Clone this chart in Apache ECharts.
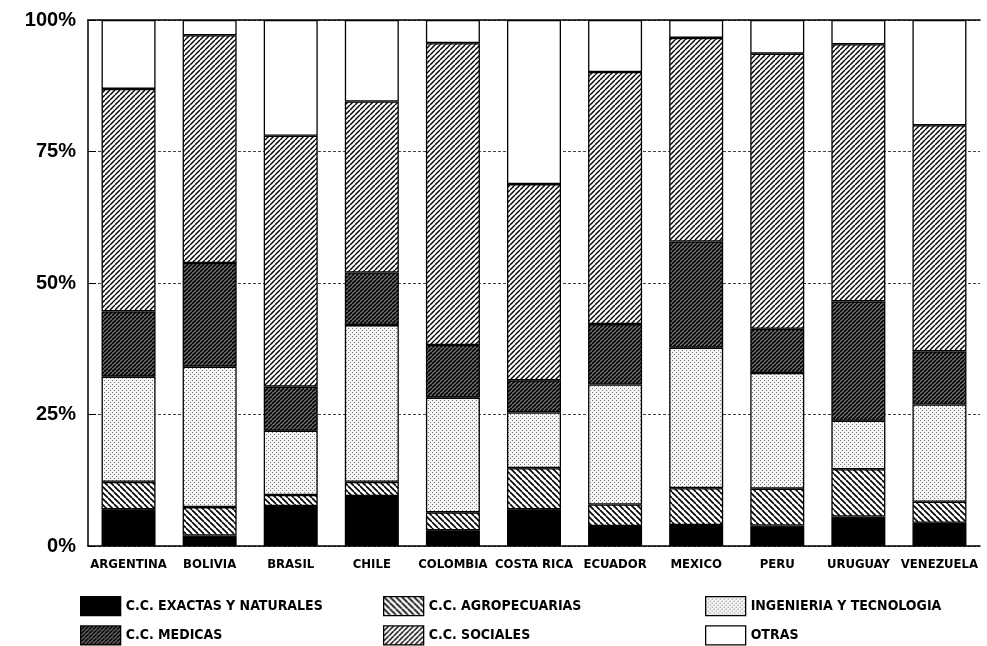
<!DOCTYPE html>
<html><head><meta charset="utf-8">
<script src="https://cdn.jsdelivr.net/npm/echarts@6/dist/echarts.min.js"></script>
<style>html,body{margin:0;padding:0;background:#fff}#c{width:987px;height:646px}</style>
</head><body><div id="c"></div>
<script>
const countries = ['ARGENTINA','BOLIVIA','BRASIL','CHILE','COLOMBIA','COSTA RICA','ECUADOR','MEXICO','PERU','URUGUAY','VENEZUELA'];
const exactas      = [7.0, 2.0, 7.6, 9.5, 3.0, 7.0, 3.8, 4.0, 3.9, 5.6, 4.4];
const agropec      = [5.2, 5.4, 2.1, 2.7, 3.4, 7.8, 4.1, 7.0, 7.0, 9.0, 4.0];
const ingenieria   = [20.0, 26.7, 12.2, 29.8, 21.8, 10.6, 22.8, 26.7, 22.0, 9.2, 18.5];
const medicas      = [12.4, 19.7, 8.4, 10.0, 10.0, 6.1, 11.5, 20.2, 8.4, 22.7, 10.1];
const sociales     = [42.3, 43.3, 47.7, 32.5, 57.4, 37.3, 47.9, 38.7, 52.3, 48.9, 43.0];
const otras        = [13.1, 2.9, 22.0, 15.5, 4.4, 31.2, 9.9, 3.4, 6.4, 4.6, 20.0];
const seriesNames  = ['C.C. EXACTAS Y NATURALES','C.C. AGROPECUARIAS','INGENIERIA Y TECNOLOGIA','C.C. MEDICAS','C.C. SOCIALES','OTRAS'];
const yTicks = ['0%','25%','50%','75%','100%'];

function hatch(size, dir, lw, bg) {
  const c = document.createElement('canvas');
  c.width = size; c.height = size;
  const g = c.getContext('2d');
  g.fillStyle = bg; g.fillRect(0,0,size,size);
  g.strokeStyle = '#000'; g.lineWidth = lw;
  for (let k = -1; k <= 1; k++) {
    g.beginPath();
    if (dir === '/') { g.moveTo(k*size, size); g.lineTo(k*size+size, 0); }
    else { g.moveTo(k*size, 0); g.lineTo(k*size+size, size); }
    g.stroke();
  }
  return {image: c, repeat: 'repeat'};
}
function dots() {
  const c = document.createElement('canvas');
  c.width = 4; c.height = 4;
  const g = c.getContext('2d');
  g.fillStyle = '#f4f4f4'; g.fillRect(0,0,4,4);
  g.fillStyle = '#777';
  g.fillRect(0,0,1,1); g.fillRect(2,2,1,1);
  return {image: c, repeat: 'repeat'};
}
const fills = [
  '#000',
  hatch(6, '\\', 1.6, '#fff'),
  dots(),
  hatch(4, '/', 1.6, '#777'),
  hatch(5, '/', 1.4, '#fff'),
  '#fff'
];
const dataSets = [exactas, agropec, ingenieria, medicas, sociales, otras];
const font = "'Liberation Sans Narrow','DejaVu Sans Condensed',Arial,sans-serif";

const series = dataSets.map((d, i) => ({
  name: seriesNames[i], type: 'bar', stack: 't', data: d, barWidth: 54,
  itemStyle: {color: fills[i], borderColor: '#000', borderWidth: 1.3},
  emphasis: {disabled: true}
}));

function legendCol(left, names) {
  return {
    orient: 'vertical', left: left, top: 596, height: 50, padding: 0,
    itemWidth: 40, itemHeight: 19, itemGap: 9, icon: 'rect',
    data: names, selectedMode: false,
    itemStyle: {borderColor: '#000', borderWidth: 1.3},
    textStyle: {fontFamily: font, fontWeight: 'bold', fontSize: 14, color: '#000'}
  };
}

const chart = echarts.init(document.getElementById('c'));
chart.setOption({
  animation: false,
  backgroundColor: '#fff',
  grid: {left: 88, right: 7, top: 20, bottom: 100},
  legend: [
    legendCol(80, [seriesNames[0], seriesNames[3]]),
    legendCol(383, [seriesNames[1], seriesNames[4]]),
    legendCol(705, [seriesNames[2], seriesNames[5]])
  ],
  xAxis: [{
    type: 'category', data: countries,
    axisLine: {lineStyle: {color: '#000', width: 1.5}},
    axisTick: {show: false},
    axisLabel: {interval: 0, margin: 12, fontFamily: font, fontWeight: 'bold', fontSize: 13, color: '#000'}
  }, {
    type: 'category', data: countries, position: 'top',
    axisLine: {show: true, lineStyle: {color: '#000', width: 1.5}},
    axisTick: {show: false}, axisLabel: {show: false}
  }],
  yAxis: {
    type: 'value', min: 0, max: 100, interval: 25,
    axisLine: {show: true, lineStyle: {color: '#000', width: 1.5}},
    axisTick: {show: true, inside: true, length: 8, lineStyle: {color: '#000'}},
    axisLabel: {margin: 12, fontFamily: 'Arial, Liberation Sans, sans-serif', fontWeight: 'bold', fontSize: 20, color: '#000',
      formatter: v => yTicks[v/25]},
    splitLine: {show: true, lineStyle: {color: '#444', type: [3,2], width: 1}}
  },
  series: series
});
</script></body></html>
